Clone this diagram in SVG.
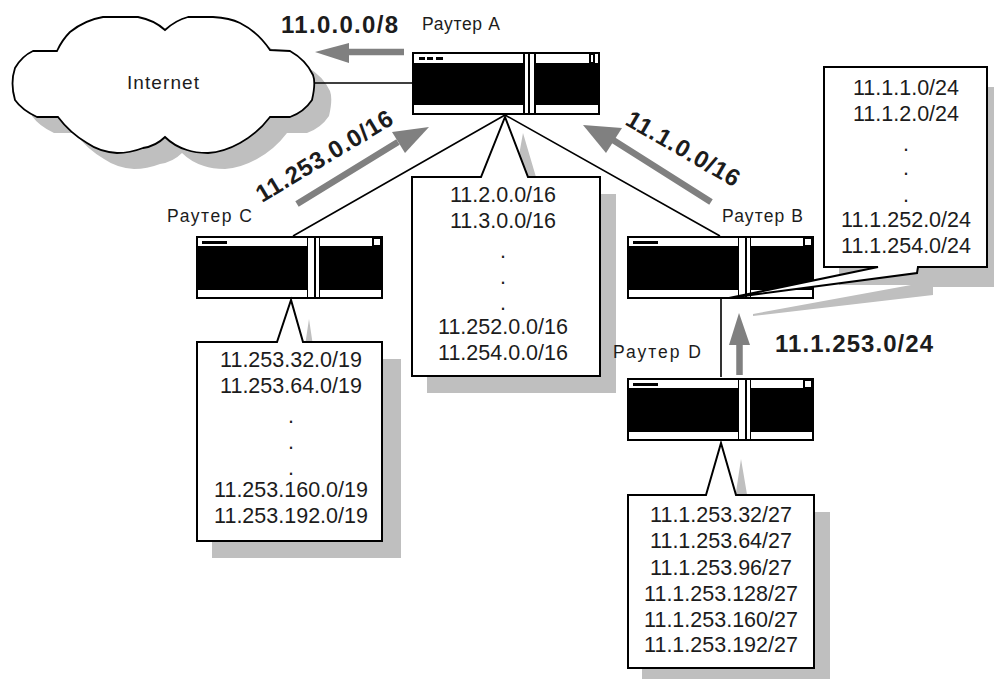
<svg xmlns="http://www.w3.org/2000/svg" width="994" height="679" viewBox="0 0 994 679">
<style>
text{font-family:"Liberation Sans",Arial,sans-serif;fill:#1c1c1c}
.lb{font-size:17.500px}
.net{font-size:21.500px;text-anchor:middle}
.big{font-size:24px;font-weight:bold}
.sh{fill:#bfbfbf}
.box{fill:#fff;stroke:#000;stroke-width:2}
.ln{fill:none;stroke:#000;stroke-width:1.600}
.ar{fill:#808080}
.as{fill:none;stroke:#808080;stroke-width:6.500}
.w{fill:#fff}
.k{fill:#000}
</style>
<defs>
<path id="cl" d="M165 30Q176 20 188 17L213 17Q230 18 240 23Q258 32 270 50L290 51Q306 60 313 75Q316 83 312 100Q304 112 290 117L270 117Q258 133 240 143Q224 152 208 153Q195 153 187 150Q174 146 165 137Q156 146 143 148Q130 153 117 153Q100 152 87 143Q70 133 58 117L37 117Q22 110 15 100Q10 83 15 68Q22 56 33 51L57 51Q62 40 70 32Q85 20 103 17L138 17Q154 20 165 30Z"/>
<g id="rt">
<rect x="0" y="0" width="187" height="63" class="k"/>
<rect x="2" y="2" width="109" height="8" class="w"/>
<rect x="2" y="54" width="109" height="7" class="w"/>
<rect x="112" y="2" width="6" height="59" class="w"/>
<rect x="120" y="2" width="3" height="59" class="w"/>
<rect x="124" y="2" width="52" height="8" class="w"/>
<rect x="124" y="54" width="61" height="7" class="w"/>
<rect x="6" y="5" width="25" height="3" class="k"/>
<rect x="178" y="3" width="6" height="6" class="w"/>
</g>
</defs>

<g id="shadows">
<use href="#cl" transform="translate(17 16)" class="sh"/>
<polygon class="sh" points="523,133 512,194 427,194 427,393 616,393 616,194 541,194"/>
<polygon class="sh" points="309,319 303,359 212,359 212,558 401,558 401,359 315,359"/>
<polygon class="sh" points="741,459 733,512 642,512 642,679 830,679 830,512 750,512"/>
<polygon class="sh" points="839,87 994,87 994,287 933,287 933,295 753,316 753,314 911,285 839,285"/>
</g>

<g id="connectors">
<path class="ln" d="M314 83H412M505 115L293 236M505 115L720 236M721 299V377"/>
<path class="as" d="M404 52H345M297 204L398 142M711 202L613 140M739.500 375V342"/>
<polygon class="ar" points="315,52 349,43 349,63"/>
<polygon class="ar" points="429,127 392,132 405,153"/>
<polygon class="ar" points="583,125 622,128 606,153"/>
<polygon class="ar" points="739,313 729,345 750,345"/>
</g>

<g id="internet">
<use href="#cl" fill="#fff" stroke="#000" stroke-width="1.800"/>
<text x="127" y="89" font-size="19" textLength="72">Internet</text>
</g>

<g id="router-a">
<rect x="412" y="52" width="188" height="63" class="k"/>
<rect x="414" y="54" width="109" height="9" class="w"/>
<rect x="414" y="105" width="109" height="8" class="w"/>
<rect x="525" y="54" width="3" height="59" class="w"/>
<rect x="530" y="54" width="4" height="59" class="w"/>
<rect x="536" y="54" width="53" height="9" class="w"/>
<rect x="536" y="105" width="62" height="8" class="w"/>
<rect x="591" y="55" width="2" height="7" class="w"/>
<rect x="595" y="54" width="3" height="9" class="w"/>
<rect x="419" y="57" width="6" height="3" class="k"/>
<rect x="427" y="57" width="6" height="3" class="k"/>
<rect x="436" y="57" width="7" height="3" class="k"/>
<text class="lb" x="422" y="30" textLength="78">Раутер A</text>
</g>

<g id="router-c">
<use href="#rt" transform="translate(196 236)"/>
<text class="lb" x="167" y="222" textLength="85">Раутер C</text>
</g>

<g id="router-b">
<use href="#rt" transform="translate(627 236)"/>
<text class="lb" x="722" y="222" textLength="81">Раутер B</text>
</g>

<g id="router-d">
<use href="#rt" transform="translate(627 378)"/>
<text class="lb" x="613" y="358" textLength="88">Раутер D</text>
</g>

<g id="prefix-a">
<polygon class="box" points="505,117 481,177 412,177 412,376 600,376 600,177 528,177"/>
<text class="net" x="503" y="202">11.2.0.0/16</text>
<text class="net" x="503" y="228">11.3.0.0/16</text>
<text class="net" x="503" y="258">.</text>
<text class="net" x="503" y="284">.</text>
<text class="net" x="503" y="310">.</text>
<text class="net" x="503" y="334">11.252.0.0/16</text>
<text class="net" x="503" y="360">11.254.0.0/16</text>
</g>

<g id="prefix-c">
<polygon class="box" points="291,300 277,342 197,342 197,541 382,541 382,342 303,342"/>
<text class="net" x="291" y="367">11.253.32.0/19</text>
<text class="net" x="291" y="393">11.253.64.0/19</text>
<text class="net" x="291" y="423">.</text>
<text class="net" x="291" y="449">.</text>
<text class="net" x="291" y="475">.</text>
<text class="net" x="291" y="497">11.253.160.0/19</text>
<text class="net" x="291" y="523">11.253.192.0/19</text>
</g>

<g id="prefix-b">
<polygon class="box" points="729,298 878,267 824,267 824,67 987,67 987,267 918,267 917,273"/>
<text class="net" x="906" y="95">11.1.1.0/24</text>
<text class="net" x="906" y="121">11.1.2.0/24</text>
<text class="net" x="906" y="151">.</text>
<text class="net" x="906" y="175">.</text>
<text class="net" x="906" y="202">.</text>
<text class="net" x="906" y="227">11.1.252.0/24</text>
<text class="net" x="906" y="253">11.1.254.0/24</text>
</g>

<g id="prefix-d">
<polygon class="box" points="721,443 706,495 628,495 628,668 814,668 814,495 736,495"/>
<text class="net" x="721" y="522">11.1.253.32/27</text>
<text class="net" x="721" y="548">11.1.253.64/27</text>
<text class="net" x="721" y="575">11.1.253.96/27</text>
<text class="net" x="721" y="601">11.1.253.128/27</text>
<text class="net" x="721" y="627">11.1.253.160/27</text>
<text class="net" x="721" y="652">11.1.253.192/27</text>
</g>

<g id="route-labels">
<text class="big" x="281" y="33" textLength="117">11.0.0.0/8</text>
<text class="big" x="775" y="352" textLength="158">11.1.253.0/24</text>
<text class="big" transform="translate(262 203) rotate(-31)" textLength="155">11.253.0.0/16</text>
<text class="big" transform="translate(624 124) rotate(30)" textLength="127">11.1.0.0/16</text>
</g>
</svg>
